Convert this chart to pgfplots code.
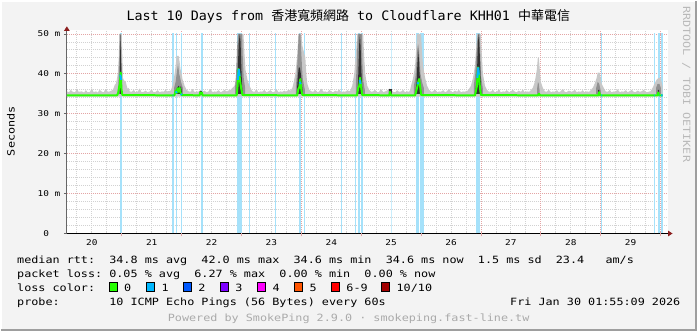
\documentclass[border=0pt]{standalone}
\usepackage{fontspec}
\usepackage{pgfplots}
\pgfplotsset{compat=1.18}
\usetikzlibrary{arrows.meta}
\setmainfont{DejaVu Sans Mono}
\newfontfamily\legfont[FakeStretch=1.18]{DejaVu Sans Mono}
\newfontfamily\titfont[FakeStretch=1.03]{DejaVu Sans Mono}
\newfontfamily\cjk{Noto Sans CJK TC}
\newcommand\lf{\legfont\fontsize{10}{12}\selectfont}
\newcommand\tf{\legfont\fontsize{8}{10}\selectfont}
\definecolor{bgcol}{RGB}{243,243,243}
\definecolor{shadeB}{RGB}{158,158,158}
\definecolor{majgrid}{RGB}{228,165,165}
\definecolor{mingrid}{RGB}{210,210,210}
\definecolor{lossbg}{RGB}{165,225,250}
\definecolor{smokeL}{RGB}{200,200,200}
\definecolor{smokeM}{RGB}{145,145,145}
\definecolor{smokeD}{RGB}{50,50,50}
\definecolor{medgreen}{RGB}{38,255,0}
\definecolor{lossA}{RGB}{0,184,255}
\definecolor{lossB}{RGB}{0,89,255}
\definecolor{lossC}{RGB}{126,0,255}
\definecolor{lossD}{RGB}{255,0,255}
\definecolor{lossE}{RGB}{255,85,0}
\definecolor{lossF}{RGB}{255,0,0}
\definecolor{lossG}{RGB}{161,0,0}
\definecolor{arrowred}{RGB}{140,30,30}
\definecolor{powgray}{RGB}{170,170,170}
\definecolor{rrdgray}{RGB}{185,185,185}

\pgfplotstableread{
x y
0.0833 35.6
0.12 35.4
0.15 36.0
0.18 35.5
0.22 35.4
0.25 36.3
0.28 35.5
0.33 35.6
0.37 35.3
0.40 35.9
0.43 35.4
0.47 35.5
0.50 36.4
0.53 35.4
0.57 35.6
0.60 35.3
0.63 36.0
0.67 35.5
0.70 35.4
0.73 36.2
0.77 35.5
0.80 35.6
0.83 35.8
0.85 36.0
0.867 36.5
0.883 37.2
0.90 37.5
0.917 38.5
0.933 40
0.95 44
0.962 50
1.0 50
1.01 44
1.02 39
1.033 38.5
1.05 38.2
1.067 38
1.083 37
1.10 36.2
1.117 36.5
1.133 35.6
1.17 35.5
1.20 36.0
1.23 35.4
1.27 35.6
1.30 36.3
1.33 35.4
1.37 35.5
1.40 35.8
1.43 35.4
1.47 35.6
1.50 36.1
1.53 35.4
1.57 35.5
1.60 35.9
1.63 35.4
1.67 35.6
1.70 35.5
1.73 36.0
1.76 35.6
1.817 35.8
1.85 37
1.883 40
1.90 42
1.917 44.5
1.95 44.5
1.967 43
1.983 41
2.0 40
2.017 38.5
2.05 37
2.083 36
2.117 35.6
2.15 35.5
2.18 36.2
2.22 35.4
2.25 35.6
2.28 35.5
2.32 36.0
2.35 35.5
2.38 35.8
2.42 35.4
2.45 35.6
2.48 36.2
2.52 35.4
2.55 35.6
2.58 35.5
2.62 35.9
2.65 35.4
2.68 35.6
2.72 36.0
2.75 35.5
2.78 35.8
2.82 36.0
2.85 36.5
2.883 37.0
2.917 39
2.933 43
2.95 50
3.033 50
3.05 45
3.067 41
3.10 38.5
3.133 37
3.167 36
3.183 35.6
3.22 35.5
3.25 36.2
3.28 35.4
3.32 35.6
3.35 35.5
3.38 36.0
3.42 35.4
3.45 35.6
3.48 35.9
3.52 35.4
3.55 35.5
3.58 36.2
3.62 35.4
3.65 35.6
3.68 35.5
3.72 35.8
3.75 35.4
3.78 36.0
3.82 35.8
3.85 36.5
3.867 37.5
3.90 40
3.933 45
3.95 50
4.0 50
4.017 47
4.05 45
4.067 44
4.083 40
4.10 37.5
4.133 36
4.167 35.6
4.20 35.5
4.23 36.0
4.27 35.4
4.30 35.6
4.33 36.3
4.37 35.5
4.40 35.6
4.43 35.4
4.47 36.0
4.50 35.5
4.53 35.4
4.57 35.8
4.60 35.5
4.63 36.1
4.67 35.4
4.70 35.6
4.73 35.5
4.77 35.9
4.80 35.6
4.817 35.8
4.85 37
4.883 40
4.917 46
4.933 50
5.033 50
5.05 44
5.067 40
5.10 37
5.133 36
5.167 35.5
5.20 35.6
5.23 36.0
5.27 35.4
5.30 35.5
5.33 36.2
5.37 35.4
5.40 35.6
5.43 35.8
5.47 36.3
5.50 36.1
5.53 35.5
5.57 35.4
5.60 35.9
5.63 35.5
5.67 35.6
5.70 36.0
5.73 35.4
5.77 35.6
5.80 35.5
5.817 36.0
5.833 37
5.867 39
5.90 42
5.917 46
5.933 50
6.0 50
6.017 45
6.033 42
6.067 39
6.10 37
6.133 36
6.167 35.5
6.20 35.6
6.23 36.1
6.27 35.4
6.30 35.6
6.33 35.5
6.37 35.9
6.40 35.4
6.43 35.6
6.47 36.2
6.50 35.5
6.53 35.4
6.57 35.8
6.60 35.5
6.63 36.0
6.67 35.4
6.70 35.6
6.73 35.5
6.77 35.8
6.783 35.8
6.833 37
6.867 39
6.90 42
6.917 46
6.933 50
7.0 50
7.017 44
7.033 40
7.067 37
7.10 36
7.133 35.5
7.17 35.6
7.20 36.0
7.23 35.4
7.27 35.5
7.30 36.2
7.33 35.4
7.37 35.6
7.40 35.5
7.43 35.9
7.47 35.4
7.50 35.6
7.53 36.0
7.57 35.5
7.60 35.4
7.63 35.8
7.67 35.5
7.70 36.1
7.73 35.4
7.77 35.6
7.80 35.5
7.817 35.6
7.867 36.5
7.90 38
7.933 41
7.95 44
7.967 44
7.983 41
8.0 38
8.033 36.5
8.067 35.6
8.10 35.5
8.13 36.0
8.17 35.4
8.20 35.6
8.23 35.5
8.27 35.9
8.30 35.4
8.33 35.6
8.37 36.2
8.40 35.5
8.43 35.4
8.47 35.8
8.50 35.5
8.53 35.6
8.57 36.0
8.60 35.4
8.63 35.6
8.67 35.5
8.70 35.9
8.73 35.4
8.77 35.6
8.80 35.5
8.817 35.6
8.867 36.5
8.90 37.5
8.933 39
8.95 40.3
8.983 40.3
9.0 39
9.017 37.5
9.05 36.5
9.083 35.6
9.12 35.5
9.15 36.0
9.18 35.4
9.22 35.6
9.25 35.5
9.28 36.1
9.32 35.4
9.35 35.6
9.38 35.5
9.42 35.9
9.45 35.4
9.48 35.6
9.52 36.0
9.55 35.5
9.58 35.4
9.62 35.8
9.65 35.5
9.68 35.6
9.72 36.0
9.75 35.5
9.78 35.4
9.82 35.6
9.833 35.6
9.867 36.5
9.90 37.5
9.933 38.5
9.967 39
10.0 39
10.017 38
10.033 37
10.033 34.3
0.0833 34.3
}\smokelight

\pgfplotstableread{
x y
0.942 35
0.942 37
0.955 42
0.967 50
0.983 50
0.995 42
1.008 37
1.008 35
nan nan
1.875 35
1.875 36.5
1.90 38
1.917 40
1.94 42.5
1.96 40
1.99 38
2.02 36.5
2.02 35
nan nan
2.895 35
2.895 37
2.91 40
2.925 46
2.94 50
3.01 50
3.022 44
3.037 39
3.06 36.5
3.06 35
nan nan
3.91 35
3.91 37
3.925 40
3.937 44
3.95 48
3.96 50
3.985 50
3.997 46
4.01 42
4.022 39
4.045 37
4.06 36
4.06 35
nan nan
4.91 35
4.91 38
4.925 42
4.937 48
4.95 50
5.01 50
5.022 42
5.037 38
5.06 36
5.06 35
nan nan
5.88 35
5.88 37
5.905 39
5.92 42
5.935 46
5.95 47.5
5.965 46
5.978 43
5.99 40
6.015 38
6.045 36.5
6.045 35
nan nan
6.88 35
6.88 37
6.905 40
6.92 44
6.935 48
6.95 50
6.978 50
6.99 44
7.005 39
7.03 36.5
7.03 35
nan nan
7.94 35
7.94 36.5
7.952 38
7.965 37.5
7.978 36
7.978 35
nan nan
8.925 35
8.925 36.5
8.95 38
8.975 37.5
8.99 36.5
9.005 35.5
9.005 35
nan nan
9.925 35
9.925 36.5
9.95 37.5
9.98 37.5
10.005 36.5
10.005 35
}\smokemid

\pgfplotstableread{
x y
0.965 35
0.965 36
0.975 46
0.983 50
0.99 45
0.997 36
0.997 35
nan nan
1.91 35
1.91 35.5
1.922 36.5
1.95 37
1.975 36.5
1.99 37
2.005 35.5
2.005 35
nan nan
2.30 34.8
2.30 35.7
2.34 35.7
2.34 34.8
nan nan
2.93 35
2.93 36
2.94 42
2.955 48
2.972 50
2.985 48
2.997 42
3.01 37
3.02 35.5
3.02 35
nan nan
3.927 35
3.927 36
3.94 39
3.955 41.5
3.975 41.6
3.992 40
4.005 38
4.02 36
4.02 35
nan nan
4.945 35
4.945 37
4.955 42
4.968 48
4.98 50
4.992 46
5.005 40
5.02 36
5.02 35
nan nan
5.46 34.8
5.46 36.2
5.51 36.2
5.51 34.8
nan nan
5.91 35
5.91 36
5.925 38
5.937 42
5.95 46
5.962 44
5.975 40
5.99 37
6.005 35.5
6.005 35
nan nan
6.91 35
6.91 36
6.925 38
6.937 42
6.95 48
6.965 50
6.978 46
6.99 40
7.005 36
7.005 35
nan nan
8.955 35
8.955 36
8.978 36
8.978 35
nan nan
9.955 35
9.955 36
9.978 36
9.978 35
}\smokedark

\pgfplotstableread{
x y
0.0833 34.6
0.92 34.6
0.94 35.2
0.955 36.6
0.968 37.4
0.983 40.3
0.995 36.2
1.01 34.7
1.88 34.6
1.90 35.8
1.917 35.2
1.933 36.4
1.95 35.5
1.967 36.5
1.983 35.3
2.0 34.7
2.30 34.6
2.31 35.3
2.34 35.3
2.35 34.6
2.92 34.6
2.933 36.6
2.95 41.2
2.967 39.5
2.983 37.5
3.0 36
3.017 34.7
3.93 34.6
3.95 36.2
3.967 36.7
3.983 38.7
4.0 36.0
4.017 34.7
4.93 34.6
4.95 36.5
4.967 37
4.983 39
5.0 36.5
5.017 34.7
5.47 34.6
5.48 35.5
5.50 34.6
5.90 34.6
5.933 36.5
5.95 37.8
5.967 38.7
5.983 37
6.0 34.7
6.90 34.6
6.933 37
6.95 41.6
6.967 39.5
6.983 36.5
7.0 34.7
7.95 34.6
7.97 35.0
7.99 34.6
8.96 34.6
8.975 35.4
8.99 34.6
9.95 34.6
9.96 35.3
9.98 34.6
10.033 34.6
}\median

\pgfplotstableread{
x y
0.975 39.8
0.99 38.5
nan nan
1.85 34.6
1.862 34.6
nan nan
1.905 35.6
1.918 35.2
nan nan
1.99 35.0
2.003 34.7
nan nan
2.94 38.5
2.955 41.2
2.968 39.5
nan nan
3.975 38.0
3.99 37.4
nan nan
4.975 38.5
4.99 37.5
nan nan
5.94 37.4
5.955 37.9
nan nan
6.94 39.0
6.955 41.6
6.965 39.8
nan nan
9.01 34.6
9.025 34.6
nan nan
9.89 34.6
9.90 34.6
nan nan
9.97 34.6
9.98 34.6
nan nan
10.01 34.6
10.033 34.6
}\medloss

\pgfplotstableread{
x y
0.988 50.3
1.855 50.3
1.912 50.3
1.995 50.3
2.338 50.3
3.138 50.3
3.572 50.3
4.05 50.3
4.672 50.3
4.905 50.3
4.962 50.3
9.017 50.3
9.895 50.3
9.972 50.3
}\lossthin

\begin{document}
\begin{tikzpicture}[x=1pt,y=1pt]
\fill[bgcol] (0,0) rectangle (697,331);
\draw[white, line width=1pt] (0.5,0) -- (0.5,330.5) -- (697,330.5);
\draw[shadeB, line width=2pt] (0,1) -- (696,1) -- (696,331);
\begin{axis}[
  at={(66pt,98pt)}, anchor=south west,
  scale only axis, width=602pt, height=203.6pt,
  xmin=0.0833, xmax=10.117, ymin=0, ymax=50.9,
  axis background/.style={fill=white},
  axis x line*=bottom, axis y line*=left,
  x axis line style={draw=black, line width=1.4pt, shorten >=-5pt,
     -{Triangle[length=4.5pt,width=5.5pt,color=arrowred]}},
  y axis line style={draw=black!60, line width=0.9pt, shorten >=-4pt,
     -{Triangle[length=4.5pt,width=5.5pt,color=arrowred]}},
  tick align=outside, major tick length=3pt, minor tick length=0pt,
  xtick={0.5,1.5,2.5,3.5,4.5,5.5,6.5,7.5,8.5,9.5},
  xticklabels={20,21,22,23,24,25,26,27,28,29},
  major x tick style={draw=none},
  extra x ticks={1,2,3,4,5,6,7,8,9,10},
  extra x tick labels={},
  extra x tick style={grid=major, major x tick style={draw=majgrid, line width=0.8pt}},
  minor xtick={0.25,0.5,...,10},
  xminorgrids,
  ytick={0,10,20,30,40,50},
  yticklabels={0\phantom{~m},10~m,20~m,30~m,40~m,50~m},
  minor ytick={2,4,6,8,12,14,16,18,22,24,26,28,32,34,36,38,42,44,46,48},
  ymajorgrids, yminorgrids,
  major y tick style={draw=black!60, line width=0.8pt},
  major grid style={draw=majgrid, line width=0.8pt, dash pattern=on 1pt off 1pt},
  minor grid style={draw=mingrid, line width=0.8pt, dash pattern=on 1pt off 1pt},
  tick label style={font=\tf, text=black},
]
\addplot[ycomb, draw=lossbg, line width=1.4pt, mark=none] table {\lossthin};
\addplot[ycomb, draw=lossbg!60, line width=1pt, mark=none] coordinates {(5.505,50.3)};
\addplot[ycomb, draw=lossbg, line width=5pt, mark=none] coordinates {(2.975,50.3)};
\addplot[ycomb, draw=lossbg, line width=2.7pt, mark=none] coordinates {(3.978,50.3) (5.945,50.3)};
\addplot[ycomb, draw=lossbg, line width=2pt, mark=none] coordinates {(5.012,50.3)};
\addplot[ycomb, draw=lossbg, line width=1.6pt, mark=none] coordinates {(10.025,50.3)};
\addplot[ycomb, draw=lossbg, line width=4.3pt, mark=none] coordinates {(6.019,50.3)};
\addplot[ycomb, draw=lossbg, line width=3.7pt, mark=none] coordinates {(6.953,50.3)};
\addplot[fill=smokeL, draw=none, mark=none] table {\smokelight};
\addplot[fill=smokeM, draw=none, mark=none, unbounded coords=jump] table {\smokemid};
\addplot[fill=smokeD, draw=none, mark=none, unbounded coords=jump] table {\smokedark};
\addplot[draw=medgreen, line width=2pt, line join=round, mark=none] table {\median};
\addplot[draw=lossA, line width=2pt, mark=none, unbounded coords=jump] table {\medloss};
\end{axis}

\node[anchor=base, inner sep=0pt, font=\titfont\fontsize{13}{15}\selectfont] at (348,311.7)
  {Last~10~Days~from~{\cjk 香港寬頻網路}~to~Cloudflare~KHH01~{\cjk 中華電信}};
\node[rotate=90, inner sep=0pt, font=\lf] at (10,200.5) {Seconds};
\node[rotate=-90, anchor=base west, inner sep=0pt, font=\lf, text=rrdgray] at (683.5,326)
  {RRDTOOL~/~TOBI~OETIKER};

\node[anchor=base west, inner sep=0pt, font=\lf] at (16,67.7)
  {median~rtt:~~34.8~ms~avg~~42.0~ms~max~~34.6~ms~min~~34.6~ms~now~~1.5~ms~sd~~23.4~~~am/s};
\node[anchor=base west, inner sep=0pt, font=\lf] at (16,53.7)
  {packet~loss:~0.05~\%~avg~~6.27~\%~max~~0.00~\%~min~~0.00~\%~now};
\node[anchor=base west, inner sep=0pt, font=\lf] at (16,40)
  {loss~color:};
\foreach \bx/\col/\lab in {108.3/medgreen/0, 145.7/lossA/1, 182.7/lossB/2, 219.7/lossC/3,
   257/lossD/4, 294/lossE/5, 331/lossF/6-9, 381.3/lossG/10\slash 10}{
  \fill[\col] (\bx,40.3) rectangle ++(8.4,8.4);
  \draw[black, line width=0.8pt] (\bx,40.3) rectangle ++(8.4,8.4);
  \node[anchor=base west, inner sep=0pt, font=\lf] at (\bx+15,40) {\lab};
}
\node[anchor=base west, inner sep=0pt, font=\lf] at (16,26.3)
  {probe:~~~~~~~10~ICMP~Echo~Pings~(56~Bytes)~every~60s};
\node[anchor=base east, inner sep=0pt, font=\lf] at (681,26.3)
  {Fri~Jan~30~01:55:09~2026};
\node[anchor=base, inner sep=0pt, font=\lf, text=powgray] at (348.4,9.7)
  {Powered~by~SmokePing~2.9.0~·~smokeping.fast-line.tw};
\end{tikzpicture}
\end{document}
